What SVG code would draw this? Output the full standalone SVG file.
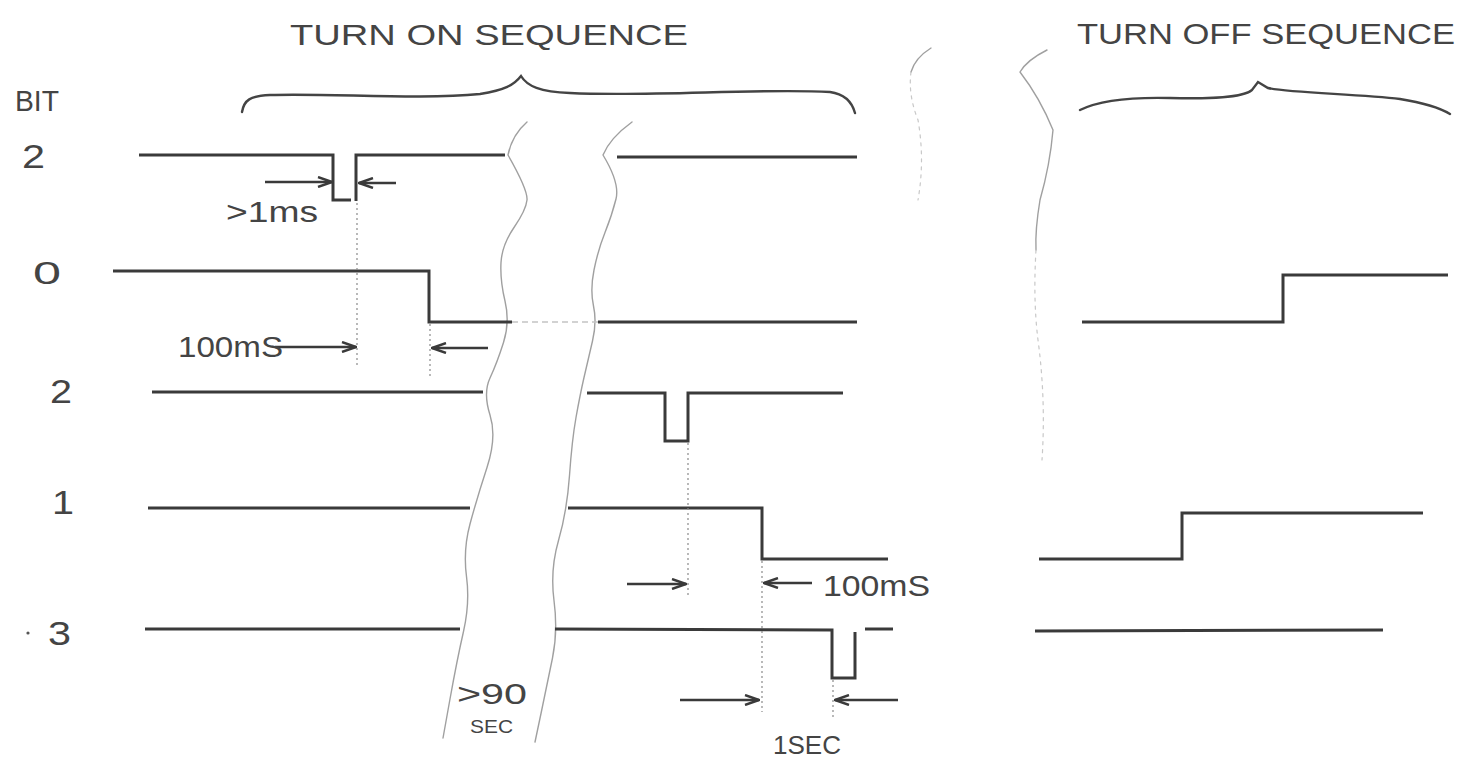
<svg xmlns="http://www.w3.org/2000/svg" width="1461" height="761" viewBox="0 0 1461 761">
<defs>
<style>
.sig{fill:none;stroke:#3a3a3a;stroke-width:3;stroke-linejoin:miter;stroke-linecap:butt}
.faint{fill:none;stroke:#c4c4c4;stroke-width:1.6;stroke-dasharray:6 4}
.pencil{fill:none;stroke:#a0a0a0;stroke-width:1.4;stroke-linecap:round}
.pencil2{fill:none;stroke:#c8c8c8;stroke-width:1.2;stroke-dasharray:3 5;stroke-linecap:round}
.dot{fill:none;stroke:#8a8a8a;stroke-width:1.2;stroke-dasharray:2 3}
.arr{fill:none;stroke:#3a3a3a;stroke-width:2.6;marker-end:url(#ah)}
.brace{fill:none;stroke:#444;stroke-width:2.4;stroke-linecap:round}
.hand{font-family:"Liberation Sans",Arial,sans-serif;fill:#444}
</style>
<marker id="ah" viewBox="0 0 16 12" refX="15" refY="6" markerWidth="16" markerHeight="12" markerUnits="userSpaceOnUse" orient="auto">
<path d="M1,1 L15,6 L1,11" fill="none" stroke="#3a3a3a" stroke-width="2.4"/>
</marker>
</defs>
<rect width="1461" height="761" fill="#ffffff"/>

<g id="titles">
<text class="hand" x="290" y="45" font-size="30" textLength="398" lengthAdjust="spacingAndGlyphs">TURN ON SEQUENCE</text>
<text class="hand" x="1077" y="44" font-size="30" textLength="378" lengthAdjust="spacingAndGlyphs">TURN OFF SEQUENCE</text>
<path class="brace" d="M242,112 C244,100 250,96 270,95 C330,93 420,100 480,94 C505,90 514,85 521,76 C527,86 540,92 570,93 C650,97 760,88 830,92 C845,94 852,102 855,113"/>
<path class="brace" d="M1080,110 C1100,100 1130,97 1170,98 C1210,99 1242,98 1252,90 L1258,82 L1268,88 C1290,93 1360,94 1400,99 C1425,103 1440,108 1450,114"/>
</g>

<g id="labels">
<text class="hand" x="15" y="111" font-size="30" textLength="44" lengthAdjust="spacingAndGlyphs">BIT</text>
<text class="hand" x="22" y="168" font-size="33" textLength="23" lengthAdjust="spacingAndGlyphs">2</text>
<text class="hand" x="33" y="284" font-size="32" textLength="28" lengthAdjust="spacingAndGlyphs">0</text>
<text class="hand" x="50" y="403" font-size="33" textLength="22" lengthAdjust="spacingAndGlyphs">2</text>
<text class="hand" x="52" y="514" font-size="33" textLength="22" lengthAdjust="spacingAndGlyphs">1</text>
<text class="hand" x="48" y="645" font-size="33" textLength="23" lengthAdjust="spacingAndGlyphs">3</text>
<circle cx="28" cy="633" r="1.6" fill="#555"/>
</g>

<g id="breaks">
<path class="pencil" d="M527,122 Q512,135 508,155 Q528,190 527,200 Q526,210 514,227.5 Q502,245 501,262.5 Q500,280 505,301 Q510,322 503.5,342.5 Q497,363 490,378 Q483,393 490,415 Q497,437 487,467.5 Q477,498 470,524 Q463,550 466.5,576.5 Q470,603 463.5,631.5 Q457,660 450,699 L443,738"/>
<path class="pencil" d="M632,122 Q610,138 603,155 Q620,183 616,199 Q612,215 605,232.5 Q598,250 594,270 Q590,290 593.5,306 Q597,322 592.5,341 Q588,360 584,377.5 Q580,395 576,417.5 Q572,440 569.5,475.5 Q567,511 558.5,540.5 Q550,570 554,600.5 Q558,631 552.5,658 Q547,685 541,713.5 L535,742"/>
<path class="pencil" d="M931,48 Q915,58 911,72"/>
<path class="pencil2" d="M911,72 Q908,95 918,120 Q925,160 918,200"/>
<path class="pencil" d="M1047,50 Q1027,60 1020,72 Q1040,98 1053,130 Q1050,165 1040,200 Q1035,230 1036,250"/>
<path class="pencil2" d="M1036,250 Q1033,300 1038,340 Q1046,400 1042,460"/>
</g>

<g id="row-bit2-a">
<path class="sig" d="M139,155 L333,155 L333,200 L351,200"/>
<path class="sig" d="M356,201 L356,155 L505,155"/>
<path class="sig" d="M617,157 L857,157"/>
</g>

<g id="row-bit0">
<path class="sig" d="M113,271 L429,271 L429,322 L512,322"/>
<path class="faint" d="M512,322 L598,322"/>
<path class="sig" d="M598,322 L857,322"/>
<path class="sig" d="M1082,322 L1283,322 L1283,275 L1448,275"/>
</g>

<g id="row-bit2-b">
<path class="sig" d="M152,392 L483,392"/>
<path class="sig" d="M587,393 L665,393 L665,441 L688,441 L688,393 L843,393"/>
</g>

<g id="row-bit1">
<path class="sig" d="M148,508 L470,508"/>
<path class="sig" d="M568,508 L762,508 L762,559 L888,559"/>
<path class="sig" d="M1039,559 L1182,559 L1182,513 L1423,513"/>
</g>

<g id="row-bit3">
<path class="sig" d="M145,629 L460,629"/>
<path class="sig" d="M555,629 L832,630 L832,678 L855,678 L855,632"/>
<path class="sig" d="M865,629 L893,629"/>
<path class="sig" d="M1035,631 L1383,630"/>
</g>

<g id="connectors">
<path class="dot" d="M357,203 L357,365"/>
<path class="dot" d="M430,324 L430,378"/>
<path class="dot" d="M688,443 L688,595"/>
<path class="dot" d="M762,561 L762,712"/>
<path class="dot" d="M833,680 L833,718"/>
<path class="arr" d="M265,182 L332,182"/>
<path class="arr" d="M396,183 L359,183"/>
<path class="arr" d="M275,347 L356,347"/>
<path class="arr" d="M488,348 L432,348"/>
<path class="arr" d="M627,584 L686,584"/>
<path class="arr" d="M812,583 L764,583"/>
<path class="arr" d="M680,700 L759,700"/>
<path class="arr" d="M898,700 L835,700"/>
</g>

<g id="annotations">
<text class="hand" x="226" y="222" font-size="30" textLength="92" lengthAdjust="spacingAndGlyphs">&gt;1ms</text>
<text class="hand" x="178" y="357" font-size="30" textLength="105" lengthAdjust="spacingAndGlyphs">100mS</text>
<text class="hand" x="823" y="596" font-size="30" textLength="107" lengthAdjust="spacingAndGlyphs">100mS</text>
<text class="hand" x="457" y="704" font-size="30" textLength="70" lengthAdjust="spacingAndGlyphs">&gt;90</text>
<text class="hand" x="470" y="733" font-size="19" textLength="43" lengthAdjust="spacingAndGlyphs">SEC</text>
<text class="hand" x="773" y="754" font-size="26" textLength="68" lengthAdjust="spacingAndGlyphs">1SEC</text>
</g>
</svg>
